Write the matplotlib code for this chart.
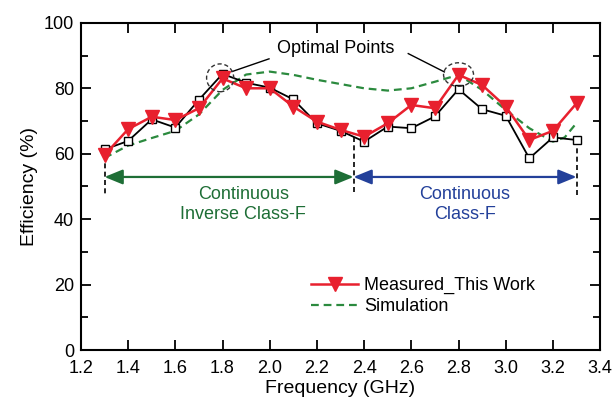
import matplotlib
matplotlib.use("Agg")
import matplotlib.pyplot as plt
from matplotlib.patches import Ellipse
from matplotlib.ticker import MultipleLocator

plt.rcParams["font.family"] = ["Liberation Sans", "DejaVu Sans"]

freq = [1.3, 1.4, 1.5, 1.6, 1.7, 1.8, 1.9, 2.0, 2.1, 2.2, 2.3, 2.4,
        2.5, 2.6, 2.7, 2.8, 2.9, 3.0, 3.1, 3.2, 3.3]
measured = [59.6, 67.5, 71.3, 70.3, 73.9, 83.0, 80.0, 80.0, 74.4, 69.8, 67.3,
            65.2, 69.3, 74.9, 73.9, 84.1, 81.0, 74.4, 64.2, 67.0, 75.4]
measured_sq = [61.3, 63.9, 70.5, 68.0, 76.5, 84.4, 81.7, 80.2, 76.6, 69.3, 67.0,
               63.7, 68.3, 67.8, 71.4, 79.7, 73.6, 71.6, 58.6, 65.0, 64.2]
sim_freq = [1.3, 1.4, 1.5, 1.6, 1.7, 1.8, 1.9, 2.0, 2.1, 2.2, 2.3, 2.4,
            2.5, 2.6, 2.7, 2.8, 2.9, 3.0, 3.1, 3.2, 3.25, 3.3]
simulation = [58.7, 62.5, 64.8, 67.0, 72.0, 79.5, 84.2, 85.1, 84.1, 82.6, 81.3,
              80.0, 79.3, 80.0, 82.0, 84.1, 79.5, 73.4, 67.8, 63.7, 65.0, 69.4]

band_edges = [1.3, 2.355, 3.3]
band_labels = ["Continuous\nInverse Class-F", "Continuous\nClass-F"]
band_colors = ["#1e6e36", "#23409a"]
optimal = [(1.79, 83.2), (2.80, 84.2)]

fig = plt.figure(figsize=(6.13, 4.08), dpi=100)
ax = fig.add_axes([0.132, 0.142, 0.847, 0.802])

ax.plot(freq, measured_sq, color="black", lw=1.3, marker="s", ms=6,
        mfc="white", mec="black", mew=1.0, zorder=3)
ax.plot(freq, measured, color="#e8202e", lw=1.8, marker="v", ms=9.5,
        mfc="#e8202e", mec="#e8202e", zorder=4, label="Measured_This Work")
ax.plot(sim_freq, simulation, color="#2b8a3e", lw=1.6, ls=(0, (3.5, 2.2)),
        zorder=2, label="Simulation")

# band boundaries and arrows
arrow_y = 52.9
for x0, top in zip(band_edges, [measured[0], measured[11], measured_sq[-1]]):
    ax.plot([x0, x0], [top, 47.5], color="black", lw=1.2, ls=(0, (3, 2)), zorder=1)
for i, (lab, col) in enumerate(zip(band_labels, band_colors)):
    x0, x1 = band_edges[i], band_edges[i + 1]
    ax.annotate("", xy=(x1, arrow_y), xytext=(x0, arrow_y),
                arrowprops=dict(arrowstyle="<|-|>,head_length=1.1,head_width=0.45",
                                color=col, lw=1.6, shrinkA=0, shrinkB=0))
    ax.text((x0 + x1) / 2 + (0.06 if i == 0 else 0.0), 44.5, lab, color=col,
            fontsize=13, ha="center", va="center", linespacing=1.25)

# optimal points
for (cx, cy), w, h in zip(optimal, [0.115, 0.127], [8.5, 7.2]):
    ax.add_patch(Ellipse((cx, cy), w, h, fill=False, ec="#333333", lw=1.0,
                         ls=(0, (3, 2)), zorder=5))
ax.text(2.28, 92.3, "Optimal Points", fontsize=13, ha="center", va="center")
ax.plot([1.997, 1.84], [89.0, 85.1], color="black", lw=1.0)
ax.plot([2.587, 2.74], [90.6, 85.0], color="black", lw=1.0)

ax.set_xlim(1.2, 3.4)
ax.set_ylim(0, 100)
ax.yaxis.set_major_locator(MultipleLocator(20))
ax.yaxis.set_minor_locator(MultipleLocator(10))
ax.set_xticks([1.2 + 0.2 * i for i in range(12)])
ax.set_xticklabels([f"{1.2 + 0.2 * i:.1f}" for i in range(12)])
ax.tick_params(which="both", direction="in", top=True, right=True,
               labelsize=13, width=1.3)
ax.tick_params(axis="x", pad=7)
ax.tick_params(axis="y", pad=5)
ax.tick_params(which="major", length=7)
ax.tick_params(which="minor", length=5)
for s in ax.spines.values():
    s.set_linewidth(1.5)

ax.set_xlabel("Frequency (GHz)", fontsize=14, labelpad=2)
ax.set_ylabel("Efficiency (%)", fontsize=14, labelpad=4)

ax.legend(loc="lower left", bbox_to_anchor=(0.43, 0.085), frameon=False,
          fontsize=13, handlelength=2.6, handletextpad=0.3, labelspacing=0.2,
          borderaxespad=0)

fig.savefig("out.png", dpi=100)
